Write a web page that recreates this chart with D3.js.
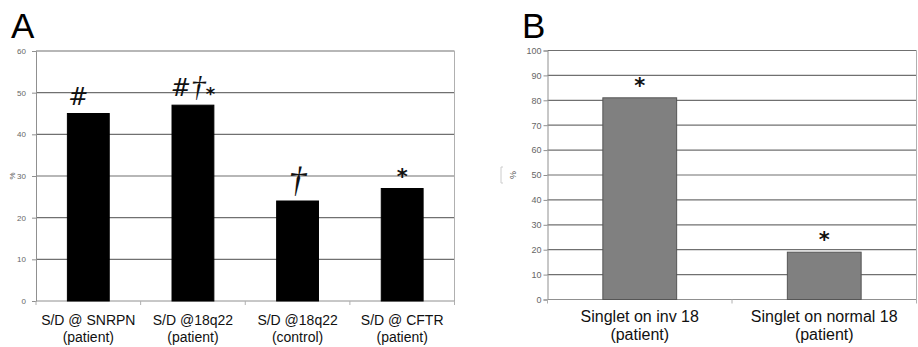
<!DOCTYPE html>
<html>
<head>
<meta charset="utf-8">
<script src="https://cdn.jsdelivr.net/npm/d3@7"></script>
<style>
  body { margin: 0; background: #fff; }
  svg { display: block; font-family: "Liberation Sans", Arial, sans-serif; }
</style>
</head>
<body>
<svg id="chart" width="918" height="347"></svg>
<script>
// Panel A data
const catsA = [
    ['S/D @ SNRPN', '(patient)'],
    ['S/D @18q22', '(patient)'],
    ['S/D @18q22', '(control)'],
    ['S/D @ CFTR', '(patient)']
];
const valuesA = [45, 47, 24, 27];
const marksA = ['#', '#†*', '†', '*'];
const ticksA = [0, 10, 20, 30, 40, 50, 60];

// Panel B data
const catsB = [
    ['Singlet on inv 18', '(patient)'],
    ['Singlet on normal 18', '(patient)']
];
const valuesB = [81, 19];
const marksB = ['*', '*'];
const ticksB = [0, 10, 20, 30, 40, 50, 60, 70, 80, 90, 100];

const svg = d3.select('#chart');

function markSize(ch, small) {
    if (ch === '#') return 24;
    if (ch === '†') return small ? 30 : 36;
    return small ? 18 : 21;
}

function drawPanel(opts) {
    const { left, right, top, bottom, cats, values, marks, ticks, max, fill, stroke,
            tickSize, tickPad, catSize, catY, catGap, letter, letterX, pctX, bracket } = opts;

    const x = d3.scaleBand().domain(d3.range(cats.length)).range([left, right]).paddingInner(0.6).paddingOuter(0.3);
    const y = d3.scaleLinear().domain([0, max]).range([bottom, top]);
    const g = svg.append('g');

    // gridlines
    g.append('g')
        .selectAll('line')
        .data(ticks.filter(t => t > 0))
        .join('line')
        .attr('x1', left).attr('x2', right)
        .attr('y1', d => y(d)).attr('y2', d => y(d))
        .attr('stroke', '#707070')
        .attr('stroke-width', 1.2);

    // right border
    g.append('line')
        .attr('x1', right).attr('x2', right)
        .attr('y1', top).attr('y2', bottom)
        .attr('stroke', '#b0b0b0');

    // y axis
    const yAxis = g.append('g')
        .attr('transform', `translate(${left},0)`)
        .call(d3.axisLeft(y).tickValues(ticks).tickSize(4).tickPadding(tickPad));
    yAxis.select('.domain').attr('stroke', '#909090');
    yAxis.selectAll('.tick line').attr('stroke', '#909090');
    yAxis.selectAll('.tick text')
        .attr('fill', '#666')
        .attr('font-size', tickSize)
        .attr('font-family', '"Liberation Sans", Arial, sans-serif');

    // x axis (category separators)
    const bounds = d3.range(cats.length + 1).map(i => left + i * (right - left) / cats.length);
    g.append('line')
        .attr('x1', left).attr('x2', right)
        .attr('y1', bottom).attr('y2', bottom)
        .attr('stroke', '#909090');
    g.append('g')
        .selectAll('line')
        .data(bounds)
        .join('line')
        .attr('x1', d => d).attr('x2', d => d)
        .attr('y1', bottom).attr('y2', bottom + 4)
        .attr('stroke', '#b0b0b0');

    // bars
    g.append('g')
        .selectAll('rect')
        .data(values)
        .join('rect')
        .attr('x', (d, i) => x(i))
        .attr('width', x.bandwidth())
        .attr('y', d => y(d))
        .attr('height', d => bottom - y(d))
        .attr('fill', fill)
        .attr('stroke', stroke)
        .attr('stroke-width', 1);

    // significance marks
    g.append('g')
        .selectAll('text')
        .data(marks)
        .join('text')
        .attr('x', (d, i) => x(i) + x.bandwidth() / 2 - (d === '#' ? 10 : 0))
        .attr('y', (d, i) => y(values[i]) - 9)
        .attr('text-anchor', 'middle')
        .attr('fill', '#111')
        .each(function (d) {
            const t = d3.select(this);
            const small = d.length > 1;
            Array.from(d).forEach(ch => {
                t.append('tspan')
                    .attr('font-size', markSize(ch, small))
                    .attr('font-family', ch === '†' ? '"Liberation Serif", serif' : '"DejaVu Sans", sans-serif')
                    .attr('font-style', ch === '*' ? 'normal' : 'italic')
                    .attr('font-weight', ch === '*' ? 'bold' : 'normal')
                    .attr('dy', ch === '*' ? 4 : 0)
                    .text(ch);
            });
        });

    // category labels
    const labels = g.append('g')
        .selectAll('text')
        .data(cats)
        .join('text')
        .attr('x', (d, i) => x(i) + x.bandwidth() / 2)
        .attr('y', bottom + catY)
        .attr('text-anchor', 'middle')
        .attr('font-size', catSize)
        .attr('fill', '#111');
    labels.append('tspan').text(d => d[0]);
    labels.append('tspan')
        .attr('x', (d, i) => x(i) + x.bandwidth() / 2)
        .attr('dy', catGap)
        .text(d => d[1]);

    // % label
    const midY = (top + bottom) / 2;
    g.append('text')
        .attr('transform', `translate(${pctX},${midY}) rotate(-90)`)
        .attr('text-anchor', 'middle')
        .attr('font-size', tickSize)
        .attr('fill', '#555')
        .text('%');
    if (bracket) {
        g.append('path')
            .attr('d', `M${bracket + 2},${midY - 8}H${bracket}V${midY + 8}H${bracket + 2}`)
            .attr('fill', 'none')
            .attr('stroke', '#ccc');
    }

    // panel letter
    svg.append('text')
        .attr('x', letterX)
        .attr('y', 38)
        .attr('font-size', 35)
        .attr('fill', '#000')
        .text(letter);
}

drawPanel({
    left: 36, right: 454.5, top: 51, bottom: 301,
    cats: catsA, values: valuesA, marks: marksA, ticks: ticksA, max: 60,
    fill: '#000', stroke: '#000', tickSize: 8, tickPad: 6, catSize: 14, catY: 24, catGap: 17,
    letter: 'A', letterX: 11, pctX: 15, bracket: null
});

drawPanel({
    left: 547.5, right: 916.5, top: 50.5, bottom: 299.5,
    cats: catsB, values: valuesB, marks: marksB, ticks: ticksB, max: 100,
    fill: '#808080', stroke: '#555', tickSize: 9, tickPad: 2, catSize: 16, catY: 22.5, catGap: 17.5,
    letter: 'B', letterX: 522, pctX: 516, bracket: 501
});
</script>
</body>
</html>
